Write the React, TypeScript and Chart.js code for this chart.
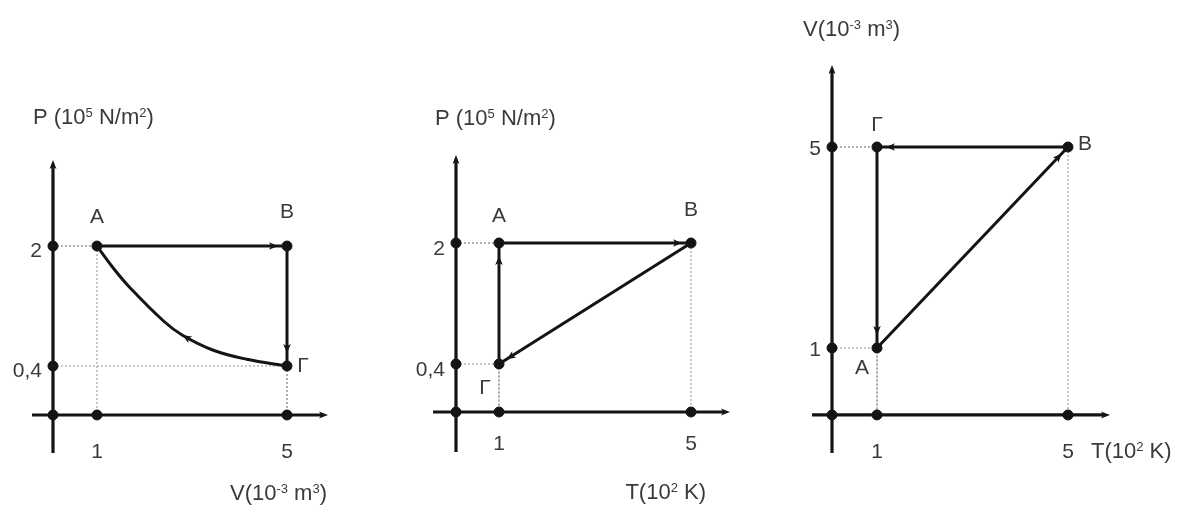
import React, { useEffect, useRef } from 'react';
import { Chart, registerables } from 'chart.js';

Chart.register(...registerables);

// ---------------- Data ----------------
// Panel 1: P–V diagram
const pvStates = ['A', 'B', 'Γ'];
const pvV = [1, 5, 5];
const pvP = [2, 2, 0.4];
// curved process Γ → A
const pvCurveV = [5, 4.15, 3.45, 2.8, 2.4, 1.7, 1.35, 1];
const pvCurveP = [0.4, 0.49, 0.61, 0.81, 1.0, 1.44, 1.7, 2];
const pvXTicks = [1, 5];
const pvXTickLabels = ['1', '5'];
const pvYTicks = [2, 0.4];
const pvYTickLabels = ['2', '0,4'];

// Panel 2: P–T diagram
const ptStates = ['A', 'B', 'Γ'];
const ptT = [1, 5, 1];
const ptP = [2, 2, 0.4];
const ptXTicks = [1, 5];
const ptXTickLabels = ['1', '5'];
const ptYTicks = [2, 0.4];
const ptYTickLabels = ['2', '0,4'];

// Panel 3: V–T diagram
const vtStates = ['A', 'B', 'Γ'];
const vtT = [1, 5, 1];
const vtV = [1, 5, 5];
const vtXTicks = [1, 5];
const vtXTickLabels = ['1', '5'];
const vtYTicks = [5, 1];
const vtYTickLabels = ['5', '1'];

// Axis titles: [text, isSuperscript]
type Seg = [string, boolean];
const pTitle: Seg[] = [['P (10', false], ['5', true], [' N/m', false], ['2', true], [')', false]];
const vTitle: Seg[] = [['V(10', false], ['-3', true], [' m', false], ['3', true], [')', false]];
const tTitle: Seg[] = [['T(10', false], ['2', true], [' K)', false]];

// ---------------- Styles / layout ----------------
const INK = '#141414';
const TEXT = '#3a3a3a';
const GUIDE = '#a0a0a0';
const FONT = '"Liberation Sans", Arial, sans-serif';
const TITLE_SIZE = 22;
const TICK_SIZE = 21;
const NAME_SIZE = 21;
const W = 393;
const H = 510;

const PANELS: any[] = [
  {
    left: 0,
    pad: { left: 32, right: 65, top: 160, bottom: 57 },
    xMin: -0.368, xMax: 5.863, yMin: -0.76, yMax: 3.147,
    crossX: 0.074, crossY: -0.253,
    xs: pvV, ys: pvP, names: pvStates,
    edges: [[0, 1], [1, 2]],
    curve: { xs: pvCurveV, ys: pvCurveP, arrowAt: 3 },
    xTicks: pvXTicks, xTickLabels: pvXTickLabels, yTicks: pvYTicks, yTickLabels: pvYTickLabels,
    yTitle: { segs: pTitle, x: 33, y: 118, align: 'left' },
    xTitle: { segs: vTitle, x: 327, y: 494, align: 'right' },
    nameOffsets: [[0, -29], [0, -34], [16, 0]],
    xTickDy: 37, yTickDy: 5,
  },
  {
    left: 393,
    pad: { left: 40, right: 56, top: 155, bottom: 58 },
    xMin: -0.375, xMax: 5.8125, yMin: -0.764, yMax: 3.164,
    crossX: 0.104, crossY: -0.235,
    xs: ptT, ys: ptP, names: ptStates,
    edges: [[0, 1], [1, 2], [2, 0]],
    curve: null,
    xTicks: ptXTicks, xTickLabels: ptXTickLabels, yTicks: ptYTicks, yTickLabels: ptYTickLabels,
    yTitle: { segs: pTitle, x: 42, y: 119, align: 'left' },
    xTitle: { segs: tTitle, x: 313, y: 493, align: 'right' },
    nameOffsets: [[0, -27], [0, -33], [-14, 24]],
    xTickDy: 32, yTickDy: 6,
  },
  {
    left: 786,
    pad: { left: 26, right: 69, top: 65, bottom: 57 },
    xMin: -0.361, xMax: 5.88, yMin: -1.09, yMax: 6.632,
    crossX: 0.058, crossY: -0.333,
    xs: vtT, ys: vtV, names: vtStates,
    edges: [[0, 1], [1, 2], [2, 0]],
    curve: null,
    xTicks: vtXTicks, xTickLabels: vtXTickLabels, yTicks: vtYTicks, yTickLabels: vtYTickLabels,
    yTitle: { segs: vTitle, x: 17, y: 30, align: 'left' },
    xTitle: { segs: tTitle, x: 305, y: 452, align: 'left' },
    nameOffsets: [[-15, 20], [17, -3], [0, -22]],
    xTickDy: 37, yTickDy: 2,
  },
];

function arrowHead(ctx: CanvasRenderingContext2D, x: number, y: number, ang: number, len = 9, half = 3.5) {
  ctx.save();
  ctx.translate(x, y);
  ctx.rotate(ang);
  ctx.fillStyle = INK;
  ctx.beginPath();
  ctx.moveTo(0, 0);
  ctx.lineTo(-len, -half);
  ctx.lineTo(-len * 0.75, 0);
  ctx.lineTo(-len, half);
  ctx.closePath();
  ctx.fill();
  ctx.restore();
}

function drawRich(ctx: CanvasRenderingContext2D, segs: Seg[], x: number, y: number, size: number, align: string) {
  const supSize = Math.round(size * 0.6);
  const widths = segs.map(([t, sup]) => {
    ctx.font = `${sup ? supSize : size}px ${FONT}`;
    return ctx.measureText(t).width;
  });
  const total = widths.reduce((a, b) => a + b, 0);
  let cx = align === 'left' ? x : align === 'right' ? x - total : x - total / 2;
  ctx.textAlign = 'left';
  ctx.textBaseline = 'middle';
  segs.forEach(([t, sup], i) => {
    ctx.font = `${sup ? supSize : size}px ${FONT}`;
    ctx.fillText(t, cx, sup ? y - size * 0.2 : y);
    cx += widths[i];
  });
}

function buildChart(canvas: HTMLCanvasElement, p: any, idx: number) {
  const datasets: any[] = [];
  const guide = (data: any[]) => ({
    data, showLine: true, borderColor: GUIDE, borderWidth: 1.2, borderDash: [2, 2],
    pointRadius: 0, fill: false, order: 3, clip: false,
  });
  const proc = (data: any[], tension: number) => ({
    data, showLine: true, borderColor: INK, borderWidth: 3, tension,
    pointRadius: 0, fill: false, order: 1, clip: false,
  });

  p.xs.forEach((x: number, i: number) => {
    const y = p.ys[i];
    datasets.push(guide([{ x: p.crossX, y }, { x, y }]));
    datasets.push(guide([{ x, y }, { x, y: p.crossY }]));
  });
  p.edges.forEach(([a, b]: number[]) =>
    datasets.push(proc([{ x: p.xs[a], y: p.ys[a] }, { x: p.xs[b], y: p.ys[b] }], 0)));
  if (p.curve) {
    datasets.push(proc(p.curve.xs.map((x: number, i: number) => ({ x, y: p.curve.ys[i] })), 0.4));
  }
  const dots = [
    { x: p.crossX, y: p.crossY },
    ...p.yTicks.map((y: number) => ({ x: p.crossX, y })),
    ...p.xTicks.map((x: number) => ({ x, y: p.crossY })),
    ...p.xs.map((x: number, i: number) => ({ x, y: p.ys[i] })),
  ];
  datasets.push({
    data: dots, showLine: false, pointRadius: 5, pointBorderWidth: 1,
    pointBackgroundColor: INK, pointBorderColor: INK, order: 0, clip: false,
  });

  const plugin = {
    id: 'diagram' + idx,
    beforeDatasetsDraw(chart: any) {
      const { ctx, chartArea: a, scales } = chart;
      const ax = scales.x.getPixelForValue(p.crossX);
      const ay = scales.y.getPixelForValue(p.crossY);
      ctx.save();
      ctx.strokeStyle = INK;
      ctx.lineWidth = 3.2;
      ctx.beginPath();
      ctx.moveTo(ax, a.bottom);
      ctx.lineTo(ax, a.top + 5);
      ctx.moveTo(a.left, ay);
      ctx.lineTo(a.right - 5, ay);
      ctx.stroke();
      ctx.restore();
      arrowHead(ctx, ax, a.top, -Math.PI / 2, 9, 3.5);
      arrowHead(ctx, a.right, ay, 0, 9, 3.5);
    },
    afterDatasetsDraw(chart: any) {
      const { ctx, scales } = chart;
      const px = (v: number) => scales.x.getPixelForValue(v);
      const py = (v: number) => scales.y.getPixelForValue(v);
      p.edges.forEach(([a, b]: number[]) => {
        const x1 = px(p.xs[a]), y1 = py(p.ys[a]);
        const x2 = px(p.xs[b]), y2 = py(p.ys[b]);
        const ang = Math.atan2(y2 - y1, x2 - x1);
        const off = Math.abs(x2 - x1) < 1 ? 13 : 9;
        arrowHead(ctx, x2 - Math.cos(ang) * off, y2 - Math.sin(ang) * off, ang, 9, 3.8);
      });
      if (p.curve) {
        const k = p.curve.arrowAt;
        const cx = px(p.curve.xs[k]), cy = py(p.curve.ys[k]);
        const ang = Math.atan2(
          py(p.curve.ys[k + 1]) - py(p.curve.ys[k - 1]),
          px(p.curve.xs[k + 1]) - px(p.curve.xs[k - 1]));
        arrowHead(ctx, cx, cy, ang, 9, 3.8);
      }
    },
    afterDraw(chart: any) {
      const { ctx, scales } = chart;
      const px = (v: number) => scales.x.getPixelForValue(v);
      const py = (v: number) => scales.y.getPixelForValue(v);
      const ax = px(p.crossX), ay = py(p.crossY);
      ctx.save();
      ctx.fillStyle = TEXT;
      ctx.textBaseline = 'middle';
      ctx.font = `${TICK_SIZE}px ${FONT}`;
      ctx.textAlign = 'right';
      p.yTicks.forEach((v: number, i: number) => ctx.fillText(p.yTickLabels[i], ax - 11, py(v) + p.yTickDy));
      ctx.textAlign = 'center';
      p.xTicks.forEach((v: number, i: number) => ctx.fillText(p.xTickLabels[i], px(v), ay + p.xTickDy));
      ctx.font = `${NAME_SIZE}px ${FONT}`;
      p.names.forEach((n: string, i: number) => {
        const [dx, dy] = p.nameOffsets[i];
        ctx.fillText(n, px(p.xs[i]) + dx, py(p.ys[i]) + dy);
      });
      drawRich(ctx, p.yTitle.segs, p.yTitle.x, p.yTitle.y, TITLE_SIZE, p.yTitle.align);
      drawRich(ctx, p.xTitle.segs, p.xTitle.x, p.xTitle.y, TITLE_SIZE, p.xTitle.align);
      ctx.restore();
    },
  };

  return new Chart(canvas, {
    type: 'scatter',
    data: { datasets },
    options: {
      animation: false,
      responsive: false,
      devicePixelRatio: 1,
      events: [],
      layout: { padding: p.pad },
      plugins: { legend: { display: false }, tooltip: { enabled: false }, title: { display: false } },
      scales: {
        x: { type: 'linear', min: p.xMin, max: p.xMax, display: false },
        y: { type: 'linear', min: p.yMin, max: p.yMax, display: false },
      },
    },
    plugins: [plugin],
  } as any);
}

export default function App() {
  const r0 = useRef<HTMLCanvasElement>(null);
  const r1 = useRef<HTMLCanvasElement>(null);
  const r2 = useRef<HTMLCanvasElement>(null);
  const refs = [r0, r1, r2];
  useEffect(() => {
    const charts = PANELS.map((p, i) => buildChart(refs[i].current as HTMLCanvasElement, p, i));
    return () => charts.forEach((c) => c.destroy());
  }, []);
  return (
    <div style={{ position: 'absolute', left: 0, top: 0, width: 1179, height: 510, background: '#fff', overflow: 'hidden' }}>
      {PANELS.map((p, i) => (
        <canvas
          key={i}
          ref={refs[i]}
          width={W}
          height={H}
          style={{ position: 'absolute', left: p.left, top: 0, width: W, height: H }}
        />
      ))}
    </div>
  );
}
